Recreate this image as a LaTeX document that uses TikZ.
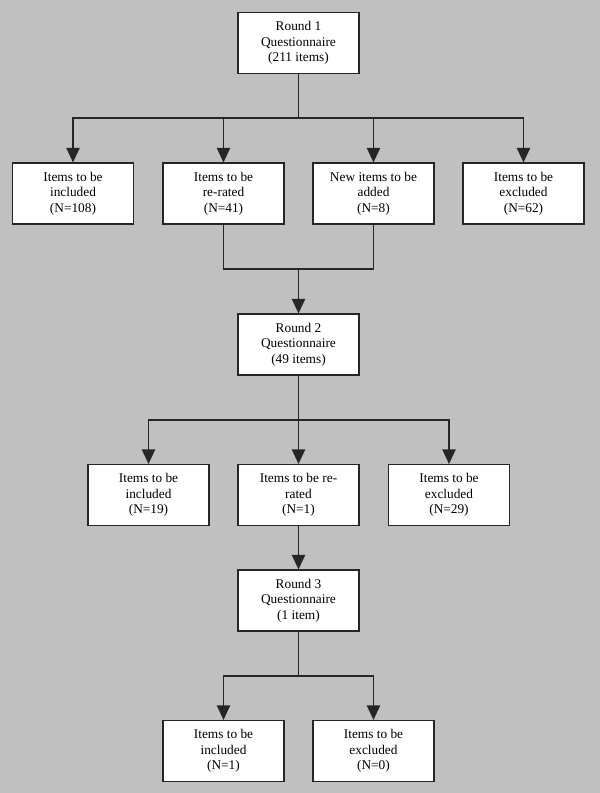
\documentclass[tikz,border=0pt]{standalone}
\usepackage{fontspec}
\setmainfont{Liberation Serif}
\usepackage{tikz}
\usetikzlibrary{arrows.meta,positioning}
\usepackage{xcolor}
\definecolor{bggray}{RGB}{192,192,192}
\tikzset{
  qbox/.style={draw=black!85,fill=white,line width=1.1pt,minimum width=90.75pt,minimum height=45.5pt,
    inner sep=1pt,align=center,font=\fontsize{10}{11.5}\selectfont},
  link/.style={line width=1.2pt,draw=black!85,line cap=rect},
  arr/.style={link,line cap=butt,-{Triangle[width=10pt,length=11pt]}}
}
\begin{document}
\begin{tikzpicture}[x=0.75pt,y=-0.75pt]
        \fill[bggray](0,0) rectangle (600,793);
        \useasboundingbox (0,0) rectangle (600,793);
        % round 1
        \node[qbox] (r1) at (298.5,43) {Round 1\\Questionnaire\\(211 items)};
        \node[qbox] (inc1) at (73,193.5) {Items to be\\included\\(N=108)};
        \node[qbox] (rer1) at (223.5,193.5) {Items to be\\re-rated\\(N=41)};
        \node[qbox] (add1) at (373.5,193.5) {New items to be\\added\\(N=8)};
        \node[qbox] (exc1) at (523.5,193.5) {Items to be\\excluded\\(N=62)};
        \coordinate (s1) at (298.5,118);
        \draw[link](r1.south) -- (s1);
        \draw[link](s1 -| inc1) -- (s1 -| exc1);
        \foreach \n in {inc1,rer1,add1,exc1}
          \draw[arr](s1 -| \n) -- (\n.north);
        % round 2
        \node[qbox] (r2) at (298.5,344.5) {Round 2\\Questionnaire\\(49 items)};
        \coordinate (m1) at (298.5,269);
        \draw[link](rer1.south) |- (m1) -| (add1.south);
        \draw[arr](m1) -- (r2.north);
        \node[qbox] (inc2) at (148.5,495) {Items to be\\included\\(N=19)};
        \node[qbox] (rer2) at (298.5,495) {Items to be re-\\rated\\(N=1)};
        \node[qbox] (exc2) at (449,495) {Items to be\\excluded\\(N=29)};
        \coordinate (s2) at (298.5,420);
        \draw[link](r2.south) -- (s2);
        \draw[link](s2 -| inc2) -- (s2 -| exc2);
        \foreach \n in {inc2,rer2,exc2}
          \draw[arr](s2 -| \n) -- (\n.north);
        % round 3
        \node[qbox] (r3) at (298.5,600.5) {Round 3\\Questionnaire\\(1 item)};
        \draw[arr](rer2.south) -- (r3.north);
        \node[qbox] (inc3) at (223.5,751) {Items to be\\included\\(N=1)};
        \node[qbox] (exc3) at (373.5,751) {Items to be\\excluded\\(N=0)};
        \coordinate (s3) at (298.5,676);
        \draw[link](r3.south) -- (s3);
        \draw[link](s3 -| inc3) -- (s3 -| exc3);
        \foreach \n in {inc3,exc3}
          \draw[arr](s3 -| \n) -- (\n.north);
      \end{tikzpicture}
\end{document}
